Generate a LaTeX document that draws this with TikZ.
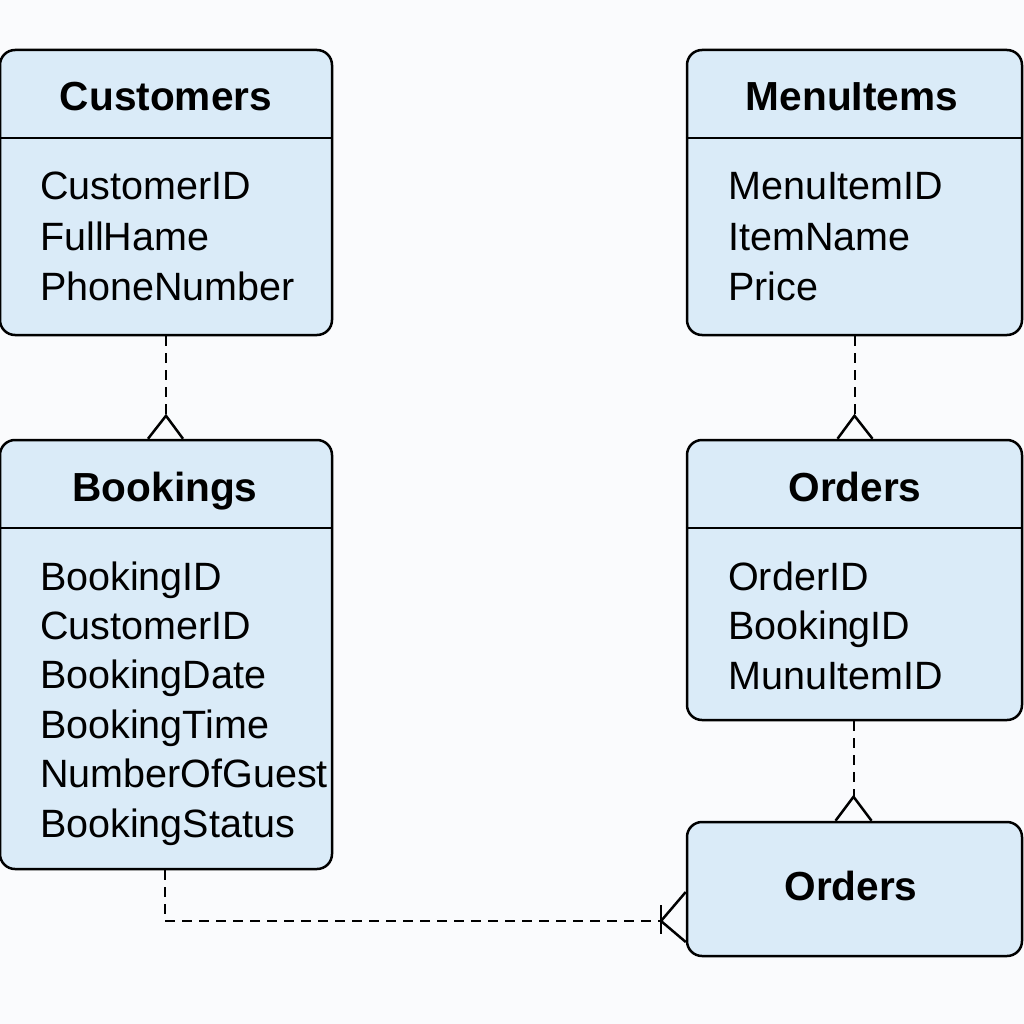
\documentclass[tikz,border=0pt]{standalone}
\usepackage{fontspec}
\setmainfont{Liberation Sans}
\usetikzlibrary{calc}
\definecolor{boxfill}{HTML}{DAEBF8}
\definecolor{bg}{HTML}{FAFBFD}
\tikzset{
  entity/.style={draw=black, line width=2.5pt, fill=boxfill, rounded corners=15pt, inner sep=0pt},
  divider/.style={draw=black, line width=2.5pt},
  ttl/.style={font=\fontsize{40.6}{40.6}\selectfont\bfseries, anchor=base, inner sep=0pt},
  attr/.style={font=\fontsize{39.5}{39.5}\selectfont, anchor=base west, inner sep=0pt},
  conn/.style={draw=black, line width=2pt, dash pattern=on 10pt off 7pt},
  foot/.style={draw=black, line width=2.5pt, line join=miter},
}
\begin{document}
\begin{tikzpicture}[x=1pt,y=-1pt]
\fill[bg] (0,0) rectangle (1024,1024);
\useasboundingbox (0,0) rectangle (1024,1024);

% boxes
\node[entity, minimum width=332pt, minimum height=285pt] (cust) at (166,192.5) {};
\node[entity, minimum width=332pt, minimum height=429pt] (book) at (166,654.5) {};
\node[entity, minimum width=335pt, minimum height=285pt] (menu) at (854.5,192.5) {};
\node[entity, minimum width=335pt, minimum height=280pt] (ord) at (854.5,580) {};
\node[entity, minimum width=335pt, minimum height=134pt] (ord2) at (854.5,889) {};

% header dividers
\draw[divider] (cust.west |- 0,138) -- (cust.east |- 0,138);
\draw[divider] (book.west |- 0,528) -- (book.east |- 0,528);
\draw[divider] (menu.west |- 0,138) -- (menu.east |- 0,138);
\draw[divider] (ord.west |- 0,528) -- (ord.east |- 0,528);

% titles
\node[ttl] (custT) at (166,111) {Customers};
\node[ttl] (bookT) at (165,501) {Bookings};
\node[ttl] (menuT) at (852,111) {MenuItems};
\node[ttl] (ordT) at (855,501) {Orders};
\node[ttl] (ord2T) at (851,900) {Orders};

% attributes
\foreach \t [count=\i] in {CustomerID,FullHame,PhoneNumber}
  \node[attr] (custA\i) at (40,{200+50*(\i-1)}) {\t};
\foreach \t [count=\i] in {BookingID,CustomerID,BookingDate,BookingTime,NumberOfGuest,BookingStatus}
  \node[attr] (bookA\i) at (40,{590+49.4*(\i-1)}) {\t};
\foreach \t [count=\i] in {MenuItemID,ItemName,Price}
  \node[attr] (menuA\i) at (728,{200+50*(\i-1)}) {\t};
\foreach \t [count=\i] in {OrderID,BookingID,MunuItemID}
  \node[attr] (ordA\i) at (728,{590+49.5*(\i-1)}) {\t};

% connectors
\coordinate (p1) at ($(book.north)+(0,-23)$);
\draw[conn] (cust.south -| p1) -- (p1);
\draw[foot] ($(p1)+(-18,23)$) -- (p1) -- ($(p1)+(17,23)$);

\coordinate (p2) at ($(ord.north)+(0,-23)$);
\draw[conn] (menu.south -| p2) -- (p2);
\draw[foot] ($(p2)+(-17,23)$) -- (p2) -- ($(p2)+(18,23)$);

\coordinate (p3) at ($(ord2.north)+(-1,-24)$);
\draw[conn] (ord.south -| p3) -- (p3);
\draw[foot] ($(p3)+(-18,24)$) -- (p3) -- ($(p3)+(18,24)$);

\coordinate (p4) at (661,921);
\coordinate (bs) at ($(book.south)+(-1,0)$);
\coordinate (bend) at (bs |- p4);
\draw[conn] (bs) -- (bend) -- (p4);
\draw[foot] (ord2.west |- 0,892) -- (p4) -- (ord2.west |- 0,942);
\draw[foot] (661,905) -- (661,934);
\end{tikzpicture}
\end{document}
